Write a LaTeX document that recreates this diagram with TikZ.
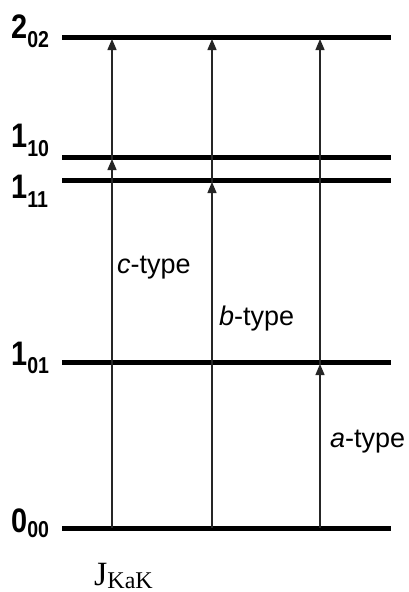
\documentclass[tikz,border=0pt]{standalone}
\usepackage{fontspec}
\setmainfont{Liberation Sans}
\newfontfamily\lvlfont[FakeStretch=0.85]{Liberation Sans}
\newfontfamily\serfont{Liberation Serif}
\usetikzlibrary{arrows.meta}
\begin{document}
\begin{tikzpicture}[x=1pt,y=-1pt,
  level/.style={line width=5pt},
  trans/.style={line width=1.3pt,draw=black!85,-{Triangle[width=9pt,length=11pt]},shorten >=-0.5pt},
  lvllabel/.style={inner sep=0pt,anchor=base west,font=\lvlfont\bfseries\fontsize{34}{34}\selectfont},
  sub/.style={},
  typelabel/.style={inner sep=0pt,anchor=base west,font=\fontsize{27}{27}\selectfont}]
\useasboundingbox (0,0) rectangle (409,592);
% levels
\foreach \n/\y in {L202/37,L110/157,L111/180,L101/362,L000/528}{
  \coordinate (\n-l) at (62,\y);
  \coordinate (\n-r) at (391,\y);
}
\draw[level] (L202-l) -- (L202-r);
\draw[level] (L110-l) -- (L110-r);
\draw[level] (L111-l) -- (L111-r);
\draw[level] (L101-l) -- (L101-r);
\draw[level] (L000-l) -- (L000-r);
% level labels
\node[lvllabel] (t202) at (11,38) {2\raisebox{-9pt}{\fontsize{23}{23}\selectfont 02}};
\node[lvllabel] (t110) at (11,147) {1\raisebox{-9pt}{\fontsize{23}{23}\selectfont 10}};
\node[lvllabel] (t111) at (11,198) {1\raisebox{-9pt}{\fontsize{23}{23}\selectfont 11}};
\node[lvllabel] (t101) at (11,365) {1\raisebox{-8pt}{\fontsize{23}{23}\selectfont 01}};
\node[lvllabel] (t000) at (11,532) {0\raisebox{-5pt}{\fontsize{23}{23}\selectfont 00}};
% arrow coordinates (bottom edge of the thick lines)
\coordinate (c0) at (112,528);
\coordinate (c1) at (112,159.5);
\coordinate (c2) at (112,39.5);
\coordinate (b0) at (212,528);
\coordinate (b1) at (212,182.5);
\coordinate (b2) at (212,39.5);
\coordinate (a0) at (320,528);
\coordinate (a1) at (320,364.5);
\coordinate (a2) at (320,39.5);
\draw[trans] (c0) -- (c1);
\draw[trans] (c1) -- (c2);
\draw[trans] (b0) -- (b1);
\draw[trans] (b1) -- (b2);
\draw[trans] (a0) -- (a1);
\draw[trans] (a1) -- (a2);
% type labels
\node[typelabel] (ct) at (117,273) {\textit{c}-type};
\node[typelabel] (bt) at (219,325) {\textit{b}-type};
\node[typelabel] (at) at (330,447) {\textit{a}-type};
% axis label
\node[inner sep=0pt,anchor=base west,font=\serfont\fontsize{34}{34}\selectfont] (jk) at (94,585) {J\raisebox{-3pt}{\fontsize{24}{24}\selectfont KaK}};
\end{tikzpicture}
\end{document}
